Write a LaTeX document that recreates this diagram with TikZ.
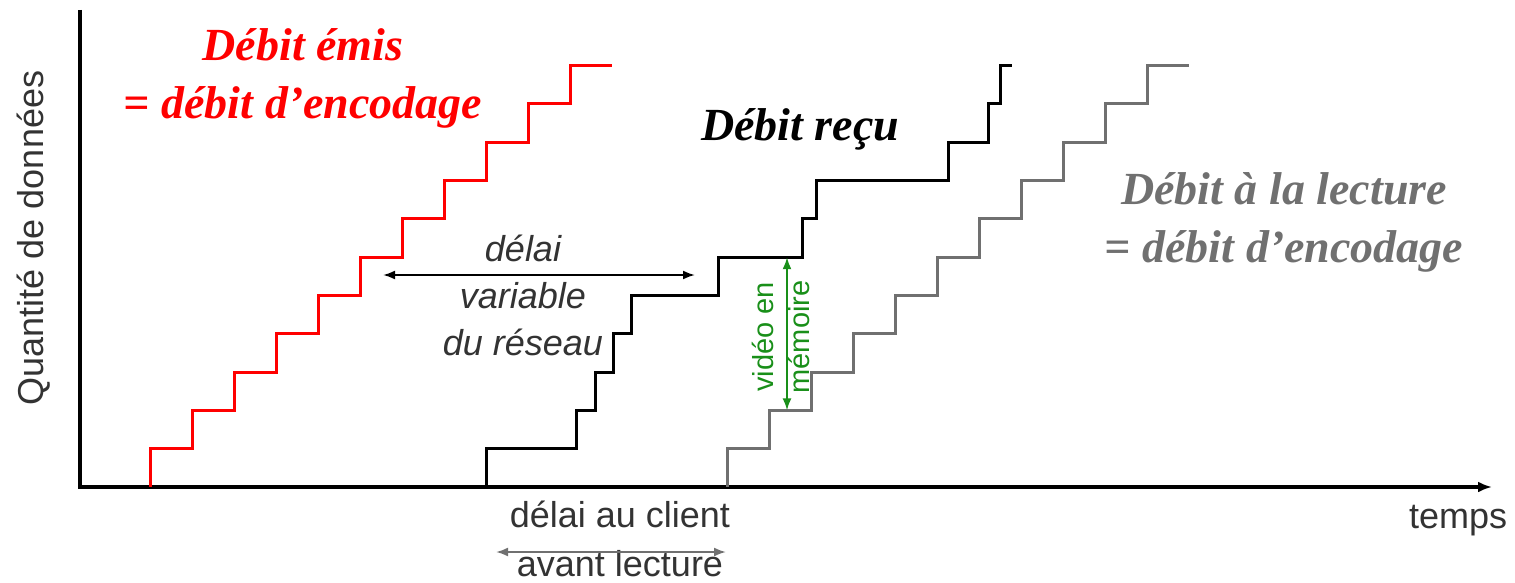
\documentclass[tikz,border=0pt]{standalone}
\usepackage{fontspec}
\setmainfont{Liberation Serif}
\setsansfont{Liberation Sans}
\usetikzlibrary{arrows.meta, positioning}
\definecolor{sentred}{rgb}{1,0,0}
\definecolor{playgray}{rgb}{0.44,0.44,0.44}
\definecolor{memgreen}{rgb}{0.1,0.56,0.1}
\definecolor{textgray}{rgb}{0.2,0.2,0.2}

\begin{document}
\begin{tikzpicture}[x=1pt,y=-1pt,font=\sffamily,>={Latex[length=12pt,width=9pt]},line width=3pt]

	\tikzset{ratetitle/.style={font=\fontsize{46}{58}\selectfont\rmfamily\bfseries\itshape,
			align=center, inner sep=0pt}}
	\tikzset{notetext/.style={font=\fontsize{36}{47}\selectfont\sffamily,
			text=textgray, align=center, inner sep=0pt}}
	\tikzset{stairs/.style={line width=3pt, line join=miter}}
	\tikzset{delayarrow/.style={<->, line width=2pt}}

	\useasboundingbox (0,0) rectangle (1515,583);

	% axes
	\coordinate (origin) at (80,487);
	\coordinate (ytop) at (80,10);
	\coordinate (xend) at (1492,487);
	\draw[line width=4pt, -{Latex[length=14pt,width=11pt]}] (ytop) -- (origin) -- (xend);
	\node[notetext, rotate=90] (yname) at (34,238) {Quantité de données};
	\node[notetext, anchor=base] (xname) at (1458,528) {temps};

	% staircases
	\draw[stairs, sentred] (150,487) \foreach \k in {1,...,11} {-- ++(0,-38.3) -- ++(42,0)};
	\draw[stairs, black] (486,487) |- (576,448.7) |- (595,410.4) |- (613,372.1) |- (631,333.8)
		|- (718,295.5) |- (802,257.2) |- (816,218.9) |- (948,180.6) |- (988,142.3)
		|- (1000,104) |- (1012,65.7);
	\draw[stairs, playgray] (727,487) \foreach \k in {1,...,11} {-- ++(0,-38.3) -- ++(42,0)};

	% titles
	\node[ratetitle, text=sentred] (sent) at (303,78) {Débit émis\\= débit d’encodage};
	\node[ratetitle, text=black, anchor=base] (recv) at (800,140) {Débit reçu};
	\node[ratetitle, text=playgray] (play) at (1284,222) {Débit à la lecture\\= débit d’encodage};

	% network delay
	\node[notetext, font=\fontsize{36}{47}\selectfont\sffamily\itshape] (netdelay) at (523,295)
		{délai\\variable\\du réseau};
	\coordinate (netL) at (383,275);
	\coordinate (netR) at (695,275);
	\draw[delayarrow, black] (netL) -- (netR);

	% buffered video
	\coordinate (memtop) at (787,257.2);
	\coordinate (membot) at (787,410.4);
	\draw[delayarrow, memgreen] (memtop) -- (membot);
	\node[notetext, text=memgreen, rotate=90, font=\fontsize{29}{36}\selectfont\sffamily]
		(mem) at (781,337) {vidéo en\\mémoire};

	% client delay
	\node[notetext, anchor=base] (client) at (620,527) {délai au client};
	\node[notetext, anchor=base] (before) at ([yshift=-49pt]client.base) {avant lecture};
	\coordinate (cliL) at (496,552);
	\coordinate (cliR) at (726,552);
	\draw[delayarrow, playgray] (cliL) -- (cliR);
\end{tikzpicture}
\end{document}
